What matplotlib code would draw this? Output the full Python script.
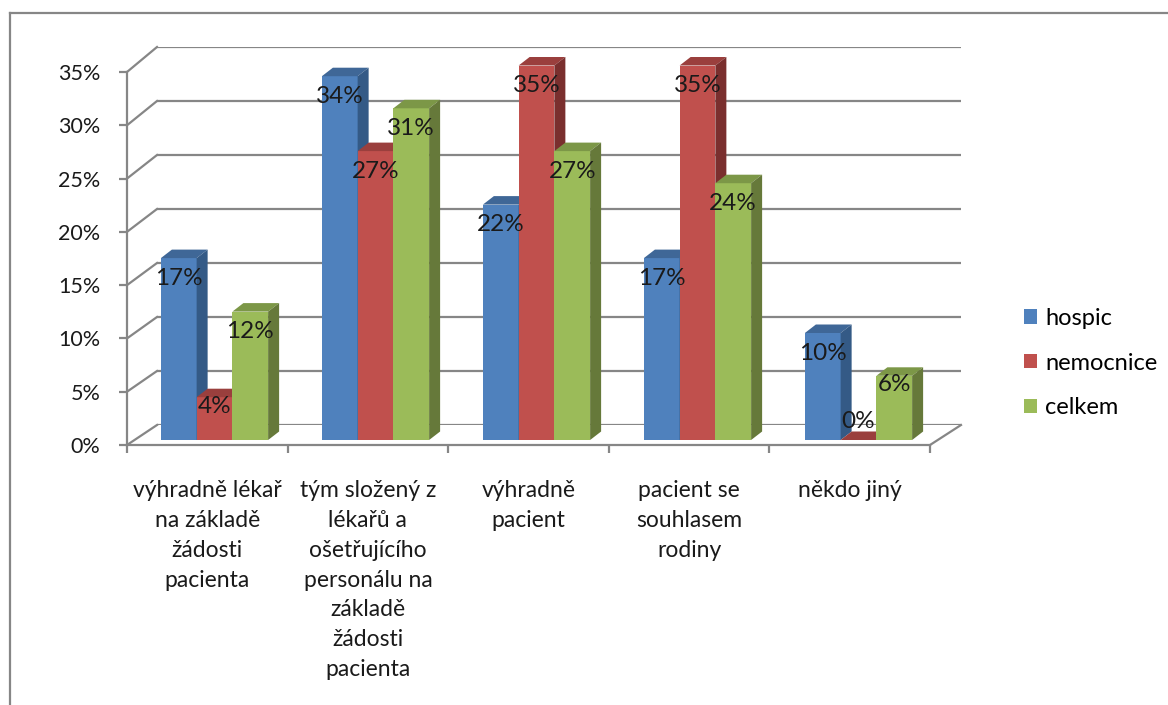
import numpy as np
import matplotlib.pyplot as plt
import matplotlib.transforms as mtransforms
from matplotlib.patches import Polygon, Rectangle
from matplotlib.lines import Line2D

plt.rcParams["font.family"] = ["Lato", "DejaVu Sans"]

categories = [
    "výhradně lékař\nna základě\nžádosti\npacienta",
    "tým složený z\nlékařů a\nošetřujícího\npersonálu na\nzákladě\nžádosti\npacienta",
    "výhradně\npacient",
    "pacient se\nsouhlasem\nrodiny",
    "někdo jiný",
]
series = ["hospic", "nemocnice", "celkem"]
hospic = [17, 34, 22, 17, 10]
nemocnice = [4, 27, 35, 35, 0]
celkem = [12, 31, 27, 24, 6]
yticks = [0, 5, 10, 15, 20, 25, 30, 35]

front_col = ["#4F81BD", "#C0504D", "#9BBB59"]
top_col = ["#3F6797", "#9A3F3D", "#7C9747"]
side_col = ["#345A86", "#7A2F2E", "#66793A"]
grid_col = "#868686"
text_col = "#1a1a1a"

W, H = 1168, 705
fig = plt.figure(figsize=(W / 100, H / 100), dpi=100)
ident = mtransforms.IdentityTransform()


def box(x0, y_bottom, x1, y_top):
    # pixel box (origin top-left) -> figure fraction rect
    return [x0 / W, 1 - y_bottom / H, (x1 - x0) / W, (y_bottom - y_top) / H]


# outer chart border
fig.add_artist(Line2D([10 / W, 10 / W], [0, 1 - 13 / H], color=grid_col, lw=1.6))
fig.add_artist(Line2D([10 / W, 1], [1 - 13 / H, 1 - 13 / H], color=grid_col, lw=1.6))

# back wall with the gridlines
ax_back = fig.add_axes(box(157, 425, 961, 47))
ax_back.set_xlim(-0.5, 4.5)
ax_back.set_ylim(0, 35)
ax_back.axis("off")
for v in yticks:
    ax_back.axhline(v, color=grid_col, lw=1.6)

# front plane: value axis, floor edge, category labels
ax_front = fig.add_axes(box(127, 445, 930, 72))
ax_front.set_xlim(-0.5, 4.5)
ax_front.set_ylim(0, 35)
ax_front.patch.set_visible(False)
for s in ["top", "right"]:
    ax_front.spines[s].set_visible(False)
for s in ["left", "bottom"]:
    ax_front.spines[s].set_color(grid_col)
    ax_front.spines[s].set_linewidth(1.6)
ax_front.set_yticks(yticks)
ax_front.set_yticklabels([f"{v}%" for v in yticks], fontsize=15.5, color=text_col)
ax_front.tick_params(axis="y", length=6, width=1.6, color=grid_col, pad=13)
ax_front.set_xticks(np.arange(-0.5, 5, 1))
ax_front.set_xticklabels([])
ax_front.tick_params(axis="x", length=6, width=1.6, color=grid_col)
for i, lab in enumerate(categories):
    ax_front.annotate(lab, (i, 0), xytext=(0, -35), textcoords="offset pixels",
                      ha="center", va="top", fontsize=16.5, color=text_col,
                      linespacing=1.52, annotation_clip=False)

# side wall diagonals and right floor edge
fig.canvas.draw()
for v in yticks:
    p0 = ax_front.transData.transform((-0.5, v))
    p1 = ax_back.transData.transform((-0.5, v))
    fig.add_artist(Line2D([p0[0], p1[0]], [p0[1], p1[1]], transform=ident,
                          color=grid_col, lw=1.6))
p0 = ax_front.transData.transform((4.5, 0))
p1 = ax_back.transData.transform((4.5, 0))
fig.add_artist(Line2D([p0[0], p1[0]], [p0[1], p1[1]], transform=ident,
                      color=grid_col, lw=1.6))

# bar plane
ax_bar = fig.add_axes(box(134, 440, 939, 65.5))
ax_bar.set_xlim(-0.5, 4.5)
ax_bar.set_ylim(0, 35)
ax_bar.axis("off")

width = 0.222
dx, dy = 11, 8.5  # depth of the bar boxes in pixels
x = np.arange(len(categories))
fig.canvas.draw()
for i in range(len(categories)):
    for k, vals in enumerate([hospic, nemocnice, celkem]):
        v = vals[i]
        xl = x[i] + (k - 1) * width - width / 2
        xr = xl + width
        ax_bar.add_patch(Rectangle((xl, 0), width, v, facecolor=front_col[k], lw=0,
                                   clip_on=False))
        (ax0, ay0) = ax_bar.transData.transform((xl, v))
        (bx0, by0) = ax_bar.transData.transform((xr, v))
        (cx0, cy0) = ax_bar.transData.transform((xr, 0))
        top = Polygon([(ax0, ay0), (bx0, by0), (bx0 + dx, by0 + dy), (ax0 + dx, ay0 + dy)],
                      closed=True, transform=ident, facecolor=top_col[k], lw=0, clip_on=False)
        side = Polygon([(cx0, cy0), (bx0, by0), (bx0 + dx, by0 + dy), (cx0 + dx, cy0 + dy)],
                       closed=True, transform=ident, facecolor=side_col[k], lw=0, clip_on=False)
        ax_bar.add_artist(top)
        ax_bar.add_artist(side)

# value labels, centred just below the top of each bar
for i in range(len(categories)):
    for k, vals in enumerate([hospic, nemocnice, celkem]):
        v = vals[i]
        xc = x[i] + (k - 1) * width
        if v == 0:
            off = 18
        elif v < 8:
            off = -9
        else:
            off = -20
        ax_bar.annotate(f"{v}%", (xc, v), xytext=(0, off), textcoords="offset pixels",
                        ha="center", va="center", fontsize=17.5, color=text_col,
                        annotation_clip=False)

# legend
handles = [Rectangle((0, 0), 1, 1, facecolor=c, lw=0) for c in front_col]
fig.legend(handles, series, loc="center left", bbox_to_anchor=(1024 / W, 1 - 363 / H),
           frameon=False, fontsize=17, handlelength=0.55, handleheight=0.55,
           handletextpad=0.34, labelspacing=1.0, borderpad=0, borderaxespad=0)

fig.savefig("out.png", dpi=100)
